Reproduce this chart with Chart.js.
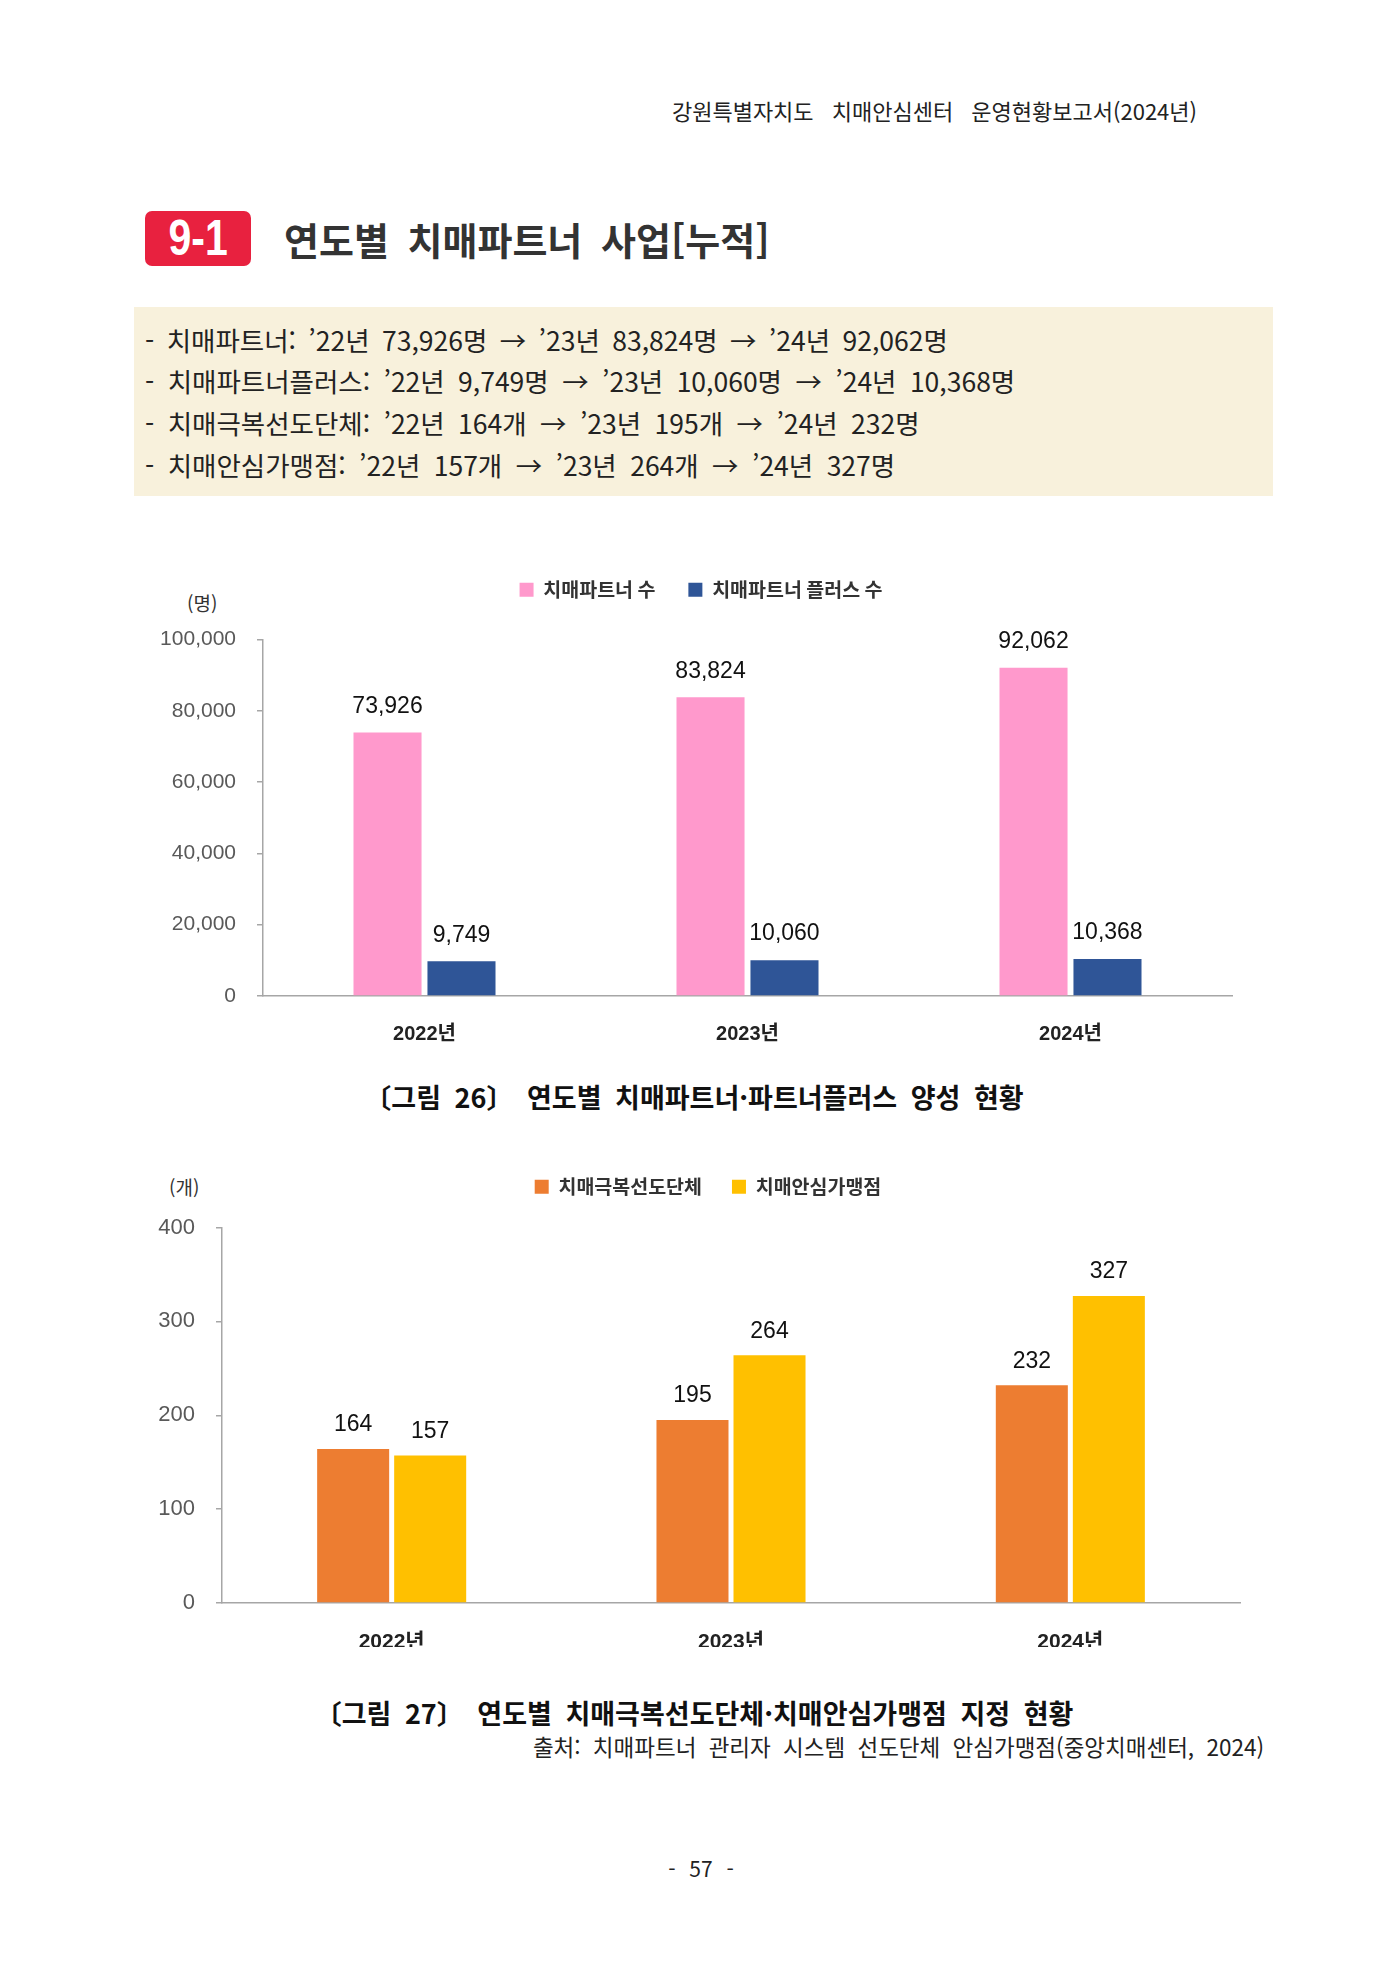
<!DOCTYPE html>
<html lang="ko">
<head>
<meta charset="utf-8">
<title>연도별 치매파트너 사업[누적]</title>
<script src="https://cdn.jsdelivr.net/npm/chart.js@4.4.1/dist/chart.umd.min.js"></script>
<style>
  html, body { margin: 0; padding: 0; background: #fff; }
  body { width: 1400px; height: 1980px; position: relative; font-family: 'Noto Sans CJK KR', 'Noto Sans', sans-serif; color: #222; }
  .abs { position: absolute; white-space: nowrap; line-height: 1; }
  #header { right: 203px; top: 99px; font-size: 22px; color: #222; word-spacing: 12px; }
  #badge { left: 145px; top: 211px; width: 106px; height: 55px; background: #e8213f; border-radius: 7px;
           color: #fff; font-family: 'Liberation Sans', sans-serif; font-weight: bold; font-size: 50px;
           line-height: 55px; text-align: center; }
  #badge span { display: inline-block; transform: scaleX(0.82); }
  #title { left: 284px; top: 220px; font-size: 38px; font-weight: bold; color: #333; word-spacing: 8px; }
  #summary { position: absolute; left: 134px; top: 307px; width: 1139px; height: 189px; background: #f8f1dc; }
  #summary div { position: absolute; left: 11px; font-size: 26.5px; line-height: 1; white-space: nowrap; color: #222; word-spacing: 6px; }
  .unit { font-size: 19px; color: #333; }
  .caption { left: 0; width: 1388px; text-align: center; font-size: 27px; font-weight: bold; color: #111; word-spacing: 6px; }
  #source { right: 136px; top: 1735px; font-size: 22.5px; color: #222; word-spacing: 6px; }
  #page { left: 0; width: 1402px; text-align: center; top: 1858px; font-size: 21px; color: #222; word-spacing: 8px; }
  canvas { position: absolute; }
</style>
</head>
<body>
<div id="header" class="abs">강원특별자치도 치매안심센터 운영현황보고서(2024년)</div>
<div id="badge" class="abs"><span>9-1</span></div>
<div id="title" class="abs">연도별 치매파트너 사업[누적]</div>
<div id="summary">
  <div style="top:20px; word-spacing:5px">- 치매파트너: ’22년 73,926명 → ’23년 83,824명 → ’24년 92,062명</div>
  <div style="top:61px">- 치매파트너플러스: ’22년 9,749명 → ’23년 10,060명 → ’24년 10,368명</div>
  <div style="top:103px">- 치매극복선도단체: ’22년 164개 → ’23년 195개 → ’24년 232명</div>
  <div style="top:145px">- 치매안심가맹점: ’22년 157개 → ’23년 264개 → ’24년 327명</div>
</div>

<div class="abs unit" style="left:187px; top:593px">(명)</div>
<canvas id="partnerChart" width="1400" height="500" style="left:0; top:547px; width:1400px; height:500px"></canvas>
<div class="abs caption" style="top:1083px">〔그림 26〕 연도별 치매파트너·파트너플러스 양성 현황</div>

<div class="abs unit" style="left:169px; top:1177px">(개)</div>
<canvas id="groupChart" width="1400" height="500" style="left:0; top:1147px; width:1400px; height:500px"></canvas>
<div class="abs caption" style="top:1699px">〔그림 27〕 연도별 치매극복선도단체·치매안심가맹점 지정 현황</div>
<div id="source" class="abs">출처: 치매파트너 관리자 시스템 선도단체 안심가맹점(중앙치매센터, 2024)</div>
<div id="page" class="abs">- 57 -</div>

<script>
// 연도
const years = ['2022년', '2023년', '2024년'];

// 그림 26
const partnerLabels = ['치매파트너 수', '치매파트너 플러스 수'];
const partners = [73926, 83824, 92062];
const partnerPlus = [9749, 10060, 10368];
const partnerTicks = [0, 20000, 40000, 60000, 80000, 100000];

// 그림 27
const groupLabels = ['치매극복선도단체', '치매안심가맹점'];
const leadGroups = [164, 195, 232];
const safeStores = [157, 264, 327];
const groupTicks = [0, 100, 200, 300, 400];

const latin = "'Liberation Sans', 'Noto Sans CJK KR', sans-serif";
const korean = "'Noto Sans CJK KR', 'Liberation Sans', sans-serif";
const axisGrey = '#a6a6a6';

// 막대 위 값 표시
const valueLabels = {
    id: 'valueLabels',
    afterDatasetsDraw(chart, args, opts) {
        const ctx = chart.ctx;
        ctx.save();
        ctx.font = '23px ' + latin;
        ctx.fillStyle = '#111';
        ctx.textAlign = 'center';
        ctx.textBaseline = 'middle';
        chart.data.datasets.forEach((ds, i) => {
            chart.getDatasetMeta(i).data.forEach((bar, j) => {
                ctx.fillText(ds.data[j].toLocaleString('en-US'), bar.x, bar.y - (opts.offset || 28));
            });
        });
        ctx.restore();
    }
};

// 범례 아래 여백 + 가로 위치
const legendGap = {
    id: 'legendGap',
    beforeInit(chart, args, opts) {
        if (!chart.legend) return;
        const fit = chart.legend.fit;
        chart.legend.fit = function () {
            fit.bind(chart.legend)();
            this.height += opts.extra || 0;
        };
    },
    afterLayout(chart, args, opts) {
        const legend = chart.legend;
        if (!legend || !opts.shift) return;
        legend.left += opts.shift;
        legend.right += opts.shift;
        legend.adjustHitBoxes();
    }
};

function makeChart(id, labelsA, dataA, colorA, labelsB, dataB, colorB, ticks, cfg) {
    const ctx = document.getElementById(id).getContext('2d');
    return new Chart(ctx, {
        type: 'bar',
        data: {
            labels: years,
            datasets: [
                { label: labelsA, data: dataA, backgroundColor: colorA, borderWidth: 0 },
                { label: labelsB, data: dataB, backgroundColor: colorB, borderWidth: 0 }
            ]
        },
        options: {
            responsive: false,
            animation: false,
            categoryPercentage: cfg.cat,
            barPercentage: cfg.bar,
            layout: { padding: { top: 0, left: 0, right: cfg.padRight, bottom: 0 } },
            plugins: {
                legend: {
                    display: true,
                    position: 'top',
                    labels: {
                        boxWidth: 14,
                        boxHeight: 14,
                        padding: cfg.legendPad,
                        color: '#333',
                        font: { family: korean, size: 19.5, weight: 'bold' }
                    }
                },
                tooltip: { enabled: false },
                legendGap: { extra: cfg.extra, shift: cfg.shift },
                valueLabels: { offset: cfg.labelOffset }
            },
            scales: {
                x: {
                    grid: { display: false, drawTicks: false },
                    border: { display: true, color: axisGrey, width: 1.5 },
                    ticks: { color: '#222', padding: cfg.xPad, font: { family: latin, size: cfg.xFont, weight: 'bold' } },
                    afterFit(scale) { scale.height = cfg.xHeight; }
                },
                y: {
                    min: ticks[0],
                    max: ticks[ticks.length - 1],
                    ticks: {
                        stepSize: ticks[1] - ticks[0],
                        color: '#595959',
                        padding: 21,
                        font: { family: latin, size: cfg.yFont },
                        callback: v => v.toLocaleString('en-US')
                    },
                    grid: { drawOnChartArea: false, drawTicks: true, tickLength: 6, color: axisGrey, lineWidth: 1.5 },
                    border: { display: true, color: axisGrey, width: 1.5 },
                    afterFit(scale) { scale.width = cfg.yWidth; }
                }
            }
        },
        plugins: [valueLabels, legendGap]
    });
}

document.addEventListener('DOMContentLoaded', () => {
    makeChart('partnerChart', partnerLabels[0], partners, '#ff99cc', partnerLabels[1], partnerPlus, '#2f5597',
        partnerTicks, { cat: 0.458, bar: 0.92, padRight: 168, legendPad: 33, extra: 30, shift: 85, labelOffset: 26,
                        xHeight: 51, xPad: 26, xFont: 20, yFont: 21, yWidth: 263 });
    makeChart('groupChart', groupLabels[0], leadGroups, '#ed7d31', groupLabels[1], safeStores, '#ffc000',
        groupTicks, { cat: 0.454, bar: 0.935, padRight: 160, legendPad: 30, extra: 21, shift: 88, labelOffset: 24,
                      xHeight: 44, xPad: 27, xFont: 21, yFont: 22, yWidth: 222 });
});
</script>
</body>
</html>
